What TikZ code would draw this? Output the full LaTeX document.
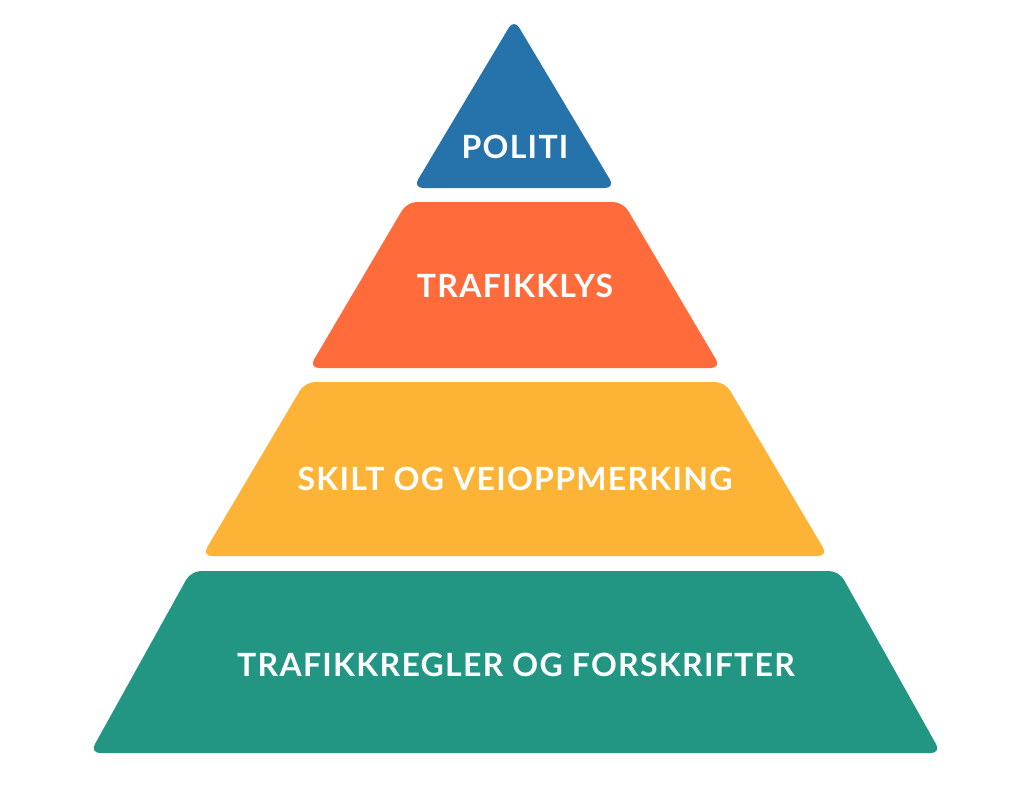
\documentclass[tikz,border=0pt]{standalone}
\usepackage{fontspec}
\setmainfont{Lato}
\definecolor{tierblue}{RGB}{38,115,172}
\definecolor{tierorange}{RGB}{255,107,59}
\definecolor{tieryellow}{RGB}{253,180,54}
\definecolor{tiergreen}{RGB}{34,150,130}
\begin{document}
\begin{tikzpicture}[x=1pt,y=-1pt,
  tier/.style={rounded corners=10pt},
  lbl/.style={text=white,font=\fontsize{32}{34}\selectfont\bfseries\addfontfeatures{LetterSpace=4},anchor=center,inner sep=0pt}]
\useasboundingbox (0,0) rectangle (1024,788);
\fill[white] (0,0) rectangle (1024,788);
\fill[tierblue,tier] (514,19) -- (615,188) -- (413,188) -- cycle;
\fill[tierorange,tier] (407,202) -- (623,202) -- (721,368) -- (309,368) -- cycle;
\fill[tieryellow,tier] (305,382) -- (725,382) -- (828,556) -- (202,556) -- cycle;
\fill[tiergreen,tier] (191,571) -- (839,571) -- (941,753) -- (90,753) -- cycle;
\node[lbl] (politi) at (515,147) {POLITI};
\node[lbl] (lys) at (515,286) {TRAFIKKLYS};
\node[lbl] (skilt) at (515,479) {SKILT OG VEIOPPMERKING};
\node[lbl] (regler) at (516,665) {TRAFIKKREGLER OG FORSKRIFTER};
\end{tikzpicture}
\end{document}
